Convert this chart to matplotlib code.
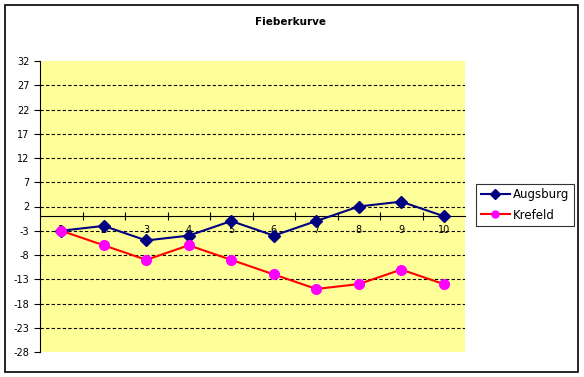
import numpy as np
import matplotlib.pyplot as plt
from matplotlib.patches import Rectangle

days = np.arange(1, 11)
augsburg = [-3, -2, -5, -4, -1, -4, -1, 2, 3, 0]
krefeld = [-3, -6, -9, -6, -9, -12, -15, -14, -11, -14]
yticks = np.arange(-28, 33, 5)

W, H = 584, 377
fig = plt.figure(figsize=(W / 100, H / 100), dpi=100)
ax = fig.add_axes([40 / W, 1 - 352 / H, (465 - 40) / W, (352 - 61) / H])
ax.set_facecolor("#FFFF99")

for y in yticks[1:-1]:
    ax.axhline(y, color="black", lw=0.8, ls=(0, (3, 2)), zorder=1)

ax.plot(days, augsburg, color="#000080", lw=1.5, marker="D", ms=6,
        mfc="#000080", mec="#000080", label="Augsburg", zorder=3)
ax.plot(days, krefeld, color="#FF0000", lw=1.5, marker="o", ms=7,
        mfc="#FF00FF", mec="#FF00FF", label="Krefeld", zorder=3)

ax.set_xlim(0.5, 10.5)
ax.set_ylim(-28, 32)
ax.set_yticks(yticks)
ax.set_yticklabels([str(v) for v in yticks])
ax.set_xticks(days)
ax.set_xticks(np.arange(1.5, 10, 1), minor=True)
ax.tick_params(axis="x", which="major", length=0, pad=6, labelsize=7)
ax.tick_params(axis="x", which="minor", length=6, direction="inout", width=0.8)
ax.tick_params(axis="y", length=4, width=0.8, direction="out", labelsize=7)

ax.spines["bottom"].set_position(("data", 0))
ax.spines["top"].set_visible(False)
ax.spines["right"].set_visible(False)
ax.spines["left"].set_linewidth(0.8)
ax.spines["bottom"].set_linewidth(0.8)
for lab in ax.get_xticklabels():
    lab.set_zorder(4)

fig.text(290 / W, 1 - 22 / H, "Fieberkurve", ha="center", va="center",
         fontsize=7.5, fontweight="bold")

leg = fig.legend(loc="center left", bbox_to_anchor=(476 / W, 1 - 205 / H),
                 fontsize=8.5, frameon=True, fancybox=False,
                 handlelength=2.5, borderpad=0.4, labelspacing=0.6,
                 handletextpad=0.2, borderaxespad=0)
leg.get_frame().set_edgecolor("black")
leg.get_frame().set_linewidth(0.8)
for h in leg.legend_handles:
    h.set_markersize(5)

fig.patches.append(Rectangle((5 / W, 5 / H), 573 / W, 367 / H,
                             transform=fig.transFigure, fill=False,
                             edgecolor="black", lw=1.2))

fig.savefig("out.png", dpi=100)
